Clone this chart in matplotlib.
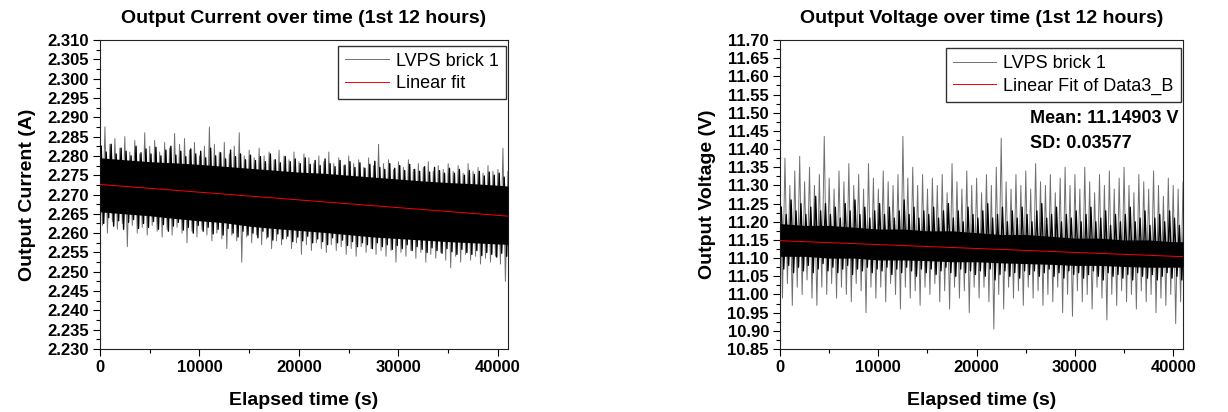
import numpy as np
import matplotlib
matplotlib.use('Agg')
import matplotlib.pyplot as plt
from matplotlib.ticker import MultipleLocator, FormatStrFormatter

plt.rcParams['font.family'] = ['Liberation Sans', 'DejaVu Sans']

# elapsed time grid (s) for the envelopes, read every 500 s
spike_t = np.arange(0, 41001, 500)
# elapsed time for the solid middle of the trace
core_t = [0, 2500, 5000, 7500, 10000, 12500, 15000, 17500, 20000, 22500,
          25000, 27500, 30000, 32500, 35000, 37500, 40000, 41000]
fit_t = [0, 41000]

# output current (A): outer spikes
current_hi = [2.2860, 2.2875, 2.2830, 2.2845, 2.2820, 2.2850, 2.2810, 2.2840, 2.2805, 2.2860,
              2.2825, 2.2840, 2.2810, 2.2835, 2.2820, 2.2858, 2.2830, 2.2845, 2.2815, 2.2835,
              2.2800, 2.2825, 2.2875, 2.2830, 2.2810, 2.2835, 2.2805, 2.2825, 2.2860, 2.2800,
              2.2815, 2.2795, 2.2820, 2.2800, 2.2810, 2.2790, 2.2815, 2.2800, 2.2790, 2.2810,
              2.2785, 2.2805, 2.2795, 2.2780, 2.2800, 2.2785, 2.2810, 2.2780, 2.2795, 2.2775,
              2.2800, 2.2780, 2.2790, 2.2770, 2.2795, 2.2775, 2.2830, 2.2780, 2.2790, 2.2765,
              2.2785, 2.2770, 2.2790, 2.2765, 2.2780, 2.2770, 2.2785, 2.2760, 2.2775, 2.2765,
              2.2780, 2.2760, 2.2775, 2.2755, 2.2780, 2.2760, 2.2770, 2.2755, 2.2775, 2.2760,
              2.2765, 2.2820, 2.2760]
current_lo = [2.2620, 2.2600, 2.2630, 2.2610, 2.2625, 2.2565, 2.2620, 2.2600, 2.2615, 2.2595,
              2.2620, 2.2605, 2.2590, 2.2610, 2.2595, 2.2615, 2.2600, 2.2575, 2.2605, 2.2590,
              2.2610, 2.2595, 2.2580, 2.2600, 2.2585, 2.2560, 2.2595, 2.2580, 2.2525, 2.2590,
              2.2575, 2.2595, 2.2570, 2.2585, 2.2560, 2.2580, 2.2570, 2.2585, 2.2560, 2.2575,
              2.2545, 2.2570, 2.2555, 2.2575, 2.2560, 2.2550, 2.2570, 2.2555, 2.2565, 2.2545,
              2.2560, 2.2540, 2.2565, 2.2550, 2.2560, 2.2545, 2.2555, 2.2540, 2.2555, 2.2525,
              2.2550, 2.2540, 2.2555, 2.2535, 2.2550, 2.2525, 2.2545, 2.2535, 2.2550, 2.2530,
              2.2510, 2.2540, 2.2525, 2.2545, 2.2530, 2.2540, 2.2520, 2.2535, 2.2525, 2.2540,
              2.2520, 2.2475, 2.2535]
# edge of the dense black band
current_mid_hi = [2.2825, 2.2810, 2.2830, 2.2805, 2.2820, 2.2812, 2.2800, 2.2825, 2.2808, 2.2818,
                  2.2805, 2.2822, 2.2800, 2.2815, 2.2825, 2.2802, 2.2812, 2.2798, 2.2818, 2.2805,
                  2.2812, 2.2795, 2.2820, 2.2800, 2.2808, 2.2792, 2.2815, 2.2798, 2.2805, 2.2790,
                  2.2802, 2.2788, 2.2798, 2.2785, 2.2805, 2.2790, 2.2782, 2.2798, 2.2785, 2.2792,
                  2.2780, 2.2795, 2.2778, 2.2788, 2.2775, 2.2792, 2.2780, 2.2772, 2.2788, 2.2776,
                  2.2785, 2.2770, 2.2782, 2.2768, 2.2778, 2.2786, 2.2770, 2.2765, 2.2780, 2.2768,
                  2.2775, 2.2762, 2.2778, 2.2765, 2.2760, 2.2772, 2.2758, 2.2770, 2.2762, 2.2755,
                  2.2768, 2.2755, 2.2765, 2.2750, 2.2762, 2.2752, 2.2760, 2.2748, 2.2758, 2.2750,
                  2.2755, 2.2745, 2.2752]
current_mid_lo = [2.2625, 2.2640, 2.2618, 2.2632, 2.2610, 2.2628, 2.2635, 2.2612, 2.2625, 2.2615,
                  2.2630, 2.2610, 2.2622, 2.2605, 2.2618, 2.2628, 2.2608, 2.2615, 2.2600, 2.2620,
                  2.2605, 2.2615, 2.2598, 2.2610, 2.2595, 2.2612, 2.2600, 2.2590, 2.2605, 2.2595,
                  2.2600, 2.2588, 2.2605, 2.2590, 2.2582, 2.2598, 2.2585, 2.2592, 2.2578, 2.2590,
                  2.2580, 2.2592, 2.2575, 2.2585, 2.2578, 2.2570, 2.2588, 2.2575, 2.2582, 2.2568,
                  2.2578, 2.2565, 2.2575, 2.2570, 2.2560, 2.2575, 2.2565, 2.2570, 2.2558, 2.2568,
                  2.2560, 2.2570, 2.2555, 2.2565, 2.2558, 2.2550, 2.2562, 2.2555, 2.2548, 2.2560,
                  2.2552, 2.2545, 2.2558, 2.2550, 2.2545, 2.2555, 2.2542, 2.2550, 2.2545, 2.2538,
                  2.2548, 2.2540, 2.2545]
current_core_hi = [2.2795, 2.2790, 2.2785, 2.2782, 2.2778, 2.2773, 2.2768, 2.2763, 2.2758, 2.2755,
                   2.2750, 2.2745, 2.2740, 2.2735, 2.2731, 2.2728, 2.2724, 2.2722]
current_core_lo = [2.2655, 2.2650, 2.2645, 2.2638, 2.2632, 2.2627, 2.2618, 2.2612, 2.2607, 2.2602,
                   2.2596, 2.2590, 2.2586, 2.2582, 2.2578, 2.2575, 2.2572, 2.2571]
current_fit = [2.2726, 2.2644]

# output voltage (V): outer spikes
voltage_hi = [11.33, 11.375, 11.30, 11.34, 11.38, 11.31, 11.35, 11.30, 11.33, 11.435,
              11.32, 11.29, 11.34, 11.31, 11.36, 11.30, 11.33, 11.29, 11.36, 11.32,
              11.29, 11.34, 11.31, 11.30, 11.33, 11.435, 11.32, 11.35, 11.30, 11.33,
              11.29, 11.32, 11.30, 11.33, 11.28, 11.36, 11.31, 11.29, 11.34, 11.30,
              11.32, 11.28, 11.33, 11.30, 11.35, 11.43, 11.31, 11.29, 11.33, 11.30,
              11.34, 11.29, 11.36, 11.31, 11.30, 11.33, 11.28, 11.32, 11.35, 11.30,
              11.33, 11.29, 11.35, 11.31, 11.28, 11.33, 11.30, 11.34, 11.29, 11.32,
              11.35, 11.30, 11.28, 11.33, 11.31, 11.29, 11.34, 11.30, 11.27, 11.32,
              11.30, 11.29, 11.31]
voltage_lo = [10.99, 11.03, 10.97, 11.02, 11.00, 11.04, 10.99, 10.97, 11.02, 11.00,
              11.03, 10.99, 11.02, 11.00, 10.98, 11.03, 11.01, 10.95, 11.02, 10.99,
              11.02, 10.98, 11.03, 11.00, 10.96, 11.02, 10.99, 11.01, 10.97, 11.02,
              11.00, 11.03, 10.98, 11.01, 10.96, 11.02, 10.99, 11.01, 10.95, 11.02,
              10.99, 11.02, 10.98, 10.905, 11.00, 10.96, 11.02, 10.99, 11.01, 10.97,
              11.02, 10.99, 11.01, 10.97, 11.00, 10.98, 11.02, 10.95, 11.00, 10.94,
              11.01, 10.98, 11.00, 10.96, 11.02, 10.99, 10.93, 11.00, 10.97, 11.01,
              10.98, 11.00, 10.96, 11.01, 10.98, 11.00, 10.95, 10.99, 10.97, 11.00,
              10.92, 10.98, 11.00]
# edge of the dense black band
voltage_mid_hi = [11.24, 11.22, 11.26, 11.23, 11.25, 11.22, 11.24, 11.27, 11.23, 11.25,
                  11.22, 11.24, 11.21, 11.25, 11.23, 11.26, 11.22, 11.24, 11.21, 11.23,
                  11.25, 11.22, 11.24, 11.21, 11.23, 11.26, 11.22, 11.24, 11.21, 11.23,
                  11.22, 11.24, 11.21, 11.23, 11.25, 11.21, 11.23, 11.20, 11.24, 11.22,
                  11.21, 11.23, 11.25, 11.21, 11.22, 11.24, 11.20, 11.23, 11.21, 11.24,
                  11.22, 11.20, 11.23, 11.25, 11.21, 11.22, 11.24, 11.20, 11.22, 11.21,
                  11.23, 11.20, 11.22, 11.24, 11.20, 11.21, 11.23, 11.19, 11.22, 11.20,
                  11.22, 11.24, 11.20, 11.21, 11.23, 11.19, 11.21, 11.22, 11.20, 11.23,
                  11.21, 11.19, 11.22]
voltage_mid_lo = [11.07, 11.08, 11.06, 11.075, 11.065, 11.08, 11.06, 11.07, 11.085, 11.065,
                  11.075, 11.06, 11.07, 11.08, 11.055, 11.07, 11.065, 11.075, 11.06, 11.07,
                  11.065, 11.075, 11.055, 11.07, 11.06, 11.075, 11.065, 11.05, 11.07, 11.06,
                  11.07, 11.055, 11.065, 11.075, 11.06, 11.05, 11.07, 11.06, 11.065, 11.055,
                  11.065, 11.05, 11.07, 11.04, 11.055, 11.065, 11.05, 11.06, 11.045, 11.065,
                  11.055, 11.065, 11.05, 11.06, 11.07, 11.05, 11.06, 11.045, 11.065, 11.055,
                  11.06, 11.045, 11.055, 11.065, 11.05, 11.04, 11.06, 11.05, 11.055, 11.045,
                  11.055, 11.04, 11.06, 11.05, 11.045, 11.055, 11.04, 11.05, 11.06, 11.045,
                  11.05, 11.04, 11.055]
voltage_core_hi = [11.195, 11.19, 11.19, 11.185, 11.18, 11.18, 11.175, 11.175, 11.17, 11.165,
                   11.165, 11.16, 11.155, 11.155, 11.15, 11.15, 11.145, 11.145]
voltage_core_lo = [11.105, 11.105, 11.10, 11.10, 11.095, 11.095, 11.093, 11.09, 11.09, 11.087,
                   11.085, 11.083, 11.08, 11.08, 11.077, 11.075, 11.075, 11.075]
voltage_fit = [11.148, 11.104]


def zigzag(t, a, b, shift):
    xs = np.column_stack([t + shift, t + shift + 250]).ravel()
    ys = np.column_stack([a, b]).ravel()
    return xs, ys


def noisy_trace(ax, hi, lo, mid_hi, mid_lo, core_hi, core_lo, fit, fit_label):
    xs, ys = zigzag(spike_t, hi, lo, 0)
    ax.plot(xs, ys, color='#707070', lw=0.7, label='LVPS brick 1', zorder=2)
    xs, ys = zigzag(spike_t, mid_hi, mid_lo, 125)
    ax.plot(xs, ys, color='black', lw=1.0, zorder=3)
    ax.fill_between(core_t, core_lo, core_hi, color='black', lw=0, zorder=3)
    ax.plot(fit_t, fit, color='red', lw=0.7, label=fit_label, zorder=4)


def style_axes(ax, ylo, yhi, ystep, fmt, title, ylabel):
    ax.set_xlim(0, 41000)
    ax.set_ylim(ylo, yhi)
    ax.xaxis.set_major_locator(MultipleLocator(10000))
    ax.xaxis.set_minor_locator(MultipleLocator(5000))
    ax.yaxis.set_major_locator(MultipleLocator(ystep))
    ax.yaxis.set_minor_locator(MultipleLocator(ystep / 2))
    ax.yaxis.set_major_formatter(FormatStrFormatter(fmt))
    ax.tick_params(which='major', direction='out', length=5, width=0.8,
                   labelsize=12, pad=3, top=False, right=False)
    ax.tick_params(which='minor', direction='out', length=3, width=0.8,
                   top=False, right=False)
    for lbl in ax.get_xticklabels() + ax.get_yticklabels():
        lbl.set_fontweight('bold')
    for sp in ax.spines.values():
        sp.set_linewidth(0.8)
        sp.set_color('#222222')
    ax.set_title(title, fontsize=14, fontweight='bold', pad=12)
    ax.set_xlabel('Elapsed time (s)', fontsize=14, fontweight='bold', labelpad=12)
    ax.set_ylabel(ylabel, fontsize=14, fontweight='bold', labelpad=8)


fig = plt.figure(figsize=(12.28, 4.12), dpi=100)

ax1 = fig.add_axes([0.0814, 0.1529, 0.3322, 0.75])
noisy_trace(ax1, current_hi, current_lo, current_mid_hi, current_mid_lo,
            current_core_hi, current_core_lo, current_fit, 'Linear fit')
style_axes(ax1, 2.230, 2.310, 0.005, '%.3f',
           'Output Current over time (1st 12 hours)', 'Output Current (A)')
leg1 = ax1.legend(loc='upper right', bbox_to_anchor=(0.995, 0.982), borderaxespad=0,
                  fontsize=13, fancybox=False, framealpha=1, edgecolor='#333333',
                  handlelength=2.4, handletextpad=0.4, labelspacing=0.3)
leg1.get_frame().set_linewidth(1.0)

ax2 = fig.add_axes([0.6352, 0.1529, 0.3282, 0.75])
noisy_trace(ax2, voltage_hi, voltage_lo, voltage_mid_hi, voltage_mid_lo,
            voltage_core_hi, voltage_core_lo, voltage_fit, 'Linear Fit of Data3_B')
style_axes(ax2, 10.85, 11.70, 0.05, '%.2f',
           'Output Voltage over time (1st 12 hours)', 'Output Voltage (V)')
leg2 = ax2.legend(loc='upper right', bbox_to_anchor=(0.995, 0.975), borderaxespad=0,
                  fontsize=13, fancybox=False, framealpha=1, edgecolor='#333333',
                  handlelength=2.4, handletextpad=0.4, labelspacing=0.3)
leg2.get_frame().set_linewidth(1.0)
ax2.text(0.62, 0.745, 'Mean: 11.14903 V', transform=ax2.transAxes,
         fontsize=13, fontweight='bold', va='center', ha='left')
ax2.text(0.62, 0.666, 'SD: 0.03577', transform=ax2.transAxes,
         fontsize=13, fontweight='bold', va='center', ha='left')

fig.savefig('out.png', dpi=100)
